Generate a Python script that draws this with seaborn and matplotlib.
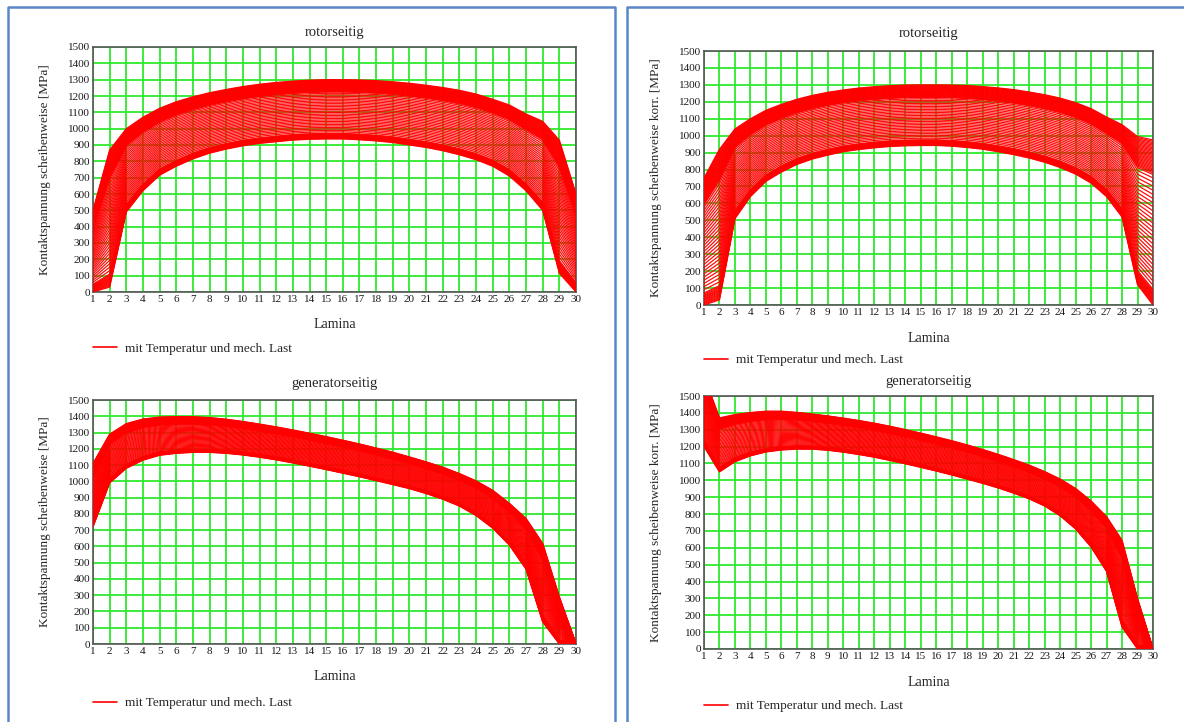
import numpy as np
import pandas as pd
import matplotlib
matplotlib.use("Agg")
import matplotlib.pyplot as plt
from matplotlib.lines import Line2D
import seaborn as sns

# Lamina positions
lamina = list(range(1, 31))

# envelope curves (first and last load step)
rotor_low = [0, 30, 490, 620, 715, 770, 815, 850, 875, 895, 910, 920, 930, 935, 937,
             937, 932, 925, 915, 900, 885, 865, 840, 810, 770, 710, 620, 500, 115, 0]
rotor_high = [500, 870, 1000, 1070, 1125, 1165, 1195, 1220, 1240, 1258, 1272, 1283, 1291, 1297, 1300,
              1300, 1298, 1294, 1287, 1278, 1266, 1252, 1235, 1212, 1180, 1145, 1090, 1045, 930, 600]

rotor_korr_low = [0, 30, 510, 640, 730, 785, 830, 862, 885, 905, 918, 928, 936, 940, 942,
                  942, 938, 930, 920, 905, 888, 868, 843, 812, 773, 720, 640, 520, 120, 0]
rotor_korr_high = [750, 920, 1040, 1100, 1150, 1185, 1215, 1238, 1256, 1270, 1281, 1289, 1295, 1299, 1300,
                   1300, 1299, 1296, 1290, 1282, 1272, 1258, 1242, 1222, 1195, 1160, 1110, 1065, 995, 975]

gen_low = [720, 990, 1080, 1130, 1160, 1172, 1178, 1178, 1172, 1162, 1148, 1132, 1113, 1093, 1072,
           1050, 1028, 1004, 980, 955, 925, 890, 848, 790, 712, 608, 460, 135, 0, 0]
gen_high = [1110, 1290, 1355, 1383, 1395, 1398, 1397, 1392, 1382, 1368, 1352, 1335, 1316, 1296, 1275,
            1253, 1230, 1205, 1179, 1150, 1120, 1087, 1048, 1003, 945, 865, 772, 619, 290, 0]

gen_korr_low = [1200, 1050, 1110, 1145, 1168, 1180, 1185, 1185, 1178, 1167, 1153, 1137, 1118, 1098, 1077,
                1055, 1032, 1007, 982, 955, 924, 890, 848, 790, 712, 605, 460, 130, 0, 0]
gen_korr_high = [1620, 1370, 1390, 1402, 1410, 1410, 1403, 1393, 1382, 1369, 1355, 1339, 1321, 1301, 1280,
                 1258, 1235, 1210, 1183, 1154, 1123, 1090, 1052, 1008, 952, 878, 785, 645, 300, 0]

# load steps (fraction of full load): dense at start, spread in the middle, dense at the end
load_steps = [0.0, 0.007, 0.014, 0.021, 0.028, 0.035, 0.042, 0.049, 0.056, 0.063, 0.07,
              0.078, 0.086, 0.095,
              0.12, 0.145, 0.17, 0.195, 0.22, 0.245, 0.27, 0.295, 0.32, 0.345,
              0.37, 0.395, 0.42, 0.445, 0.47, 0.495, 0.52, 0.545, 0.57, 0.595, 0.62,
              0.645, 0.67, 0.695, 0.72, 0.745, 0.77, 0.79,
              0.80, 0.808, 0.816, 0.824, 0.832, 0.84, 0.848, 0.856, 0.864, 0.872, 0.88,
              0.888, 0.896, 0.904, 0.912, 0.92, 0.928, 0.936, 0.944, 0.952, 0.96, 0.968,
              0.976, 0.984, 0.992, 1.0]

label_legend = "mit Temperatur und mech. Last"
ylabel_plain = "Kontaktspannung scheibenweise [MPa]"
ylabel_korr = "Kontaktspannung scheibenweise korr. [MPa]"

W, H = 1184, 722


def rect(l, t, r, b):
    return [l / W, 1 - b / H, (r - l) / W, (b - t) / H]


def family(low, high):
    rows = []
    low = np.array(low, float)
    high = np.array(high, float)
    for i, f in enumerate(load_steps):
        vals = low + f * (high - low)
        for x, v in zip(lamina, vals):
            rows.append((i, x, v))
    return pd.DataFrame(rows, columns=["Stufe", "Lamina", "Spannung"])


sns.set_theme(style="white")
plt.rcParams["font.family"] = ["Liberation Serif", "DejaVu Serif"]

fig = plt.figure(figsize=(W / 100, H / 100), dpi=100)
fig.patch.set_facecolor("white")

# blue page frames
blue = "#5b87c9"
fig.add_artist(Line2D([8 / W, 8 / W, 615 / W, 615 / W], [-0.01, 1 - 7 / H, 1 - 7 / H, -0.01],
                      color=blue, lw=1.8, transform=fig.transFigure))
fig.add_artist(Line2D([627 / W, 627 / W, 1.01], [-0.01, 1 - 7 / H, 1 - 7 / H],
                      color=blue, lw=1.8, transform=fig.transFigure))

panels = [
    (rect(93, 47, 576, 292), "rotorseitig", ylabel_plain, rotor_low, rotor_high, 32, 325, 349, 93),
    (rect(704, 51, 1153, 305), "rotorseitig", ylabel_korr, rotor_korr_low, rotor_korr_high, 34, 338, 360, 704),
    (rect(93, 400, 576, 644), "generatorseitig", ylabel_plain, gen_low, gen_high, 384, 677, 703, 93),
    (rect(704, 396, 1153, 649), "generatorseitig", ylabel_korr, gen_korr_low, gen_korr_high, 381, 682, 706, 704),
]

for r, title, ylab, low, high, ty, ly, gy, gx in panels:
    ax = fig.add_axes(r)
    df = family(low, high)
    sns.lineplot(data=df, x="Lamina", y="Spannung", units="Stufe", estimator=None,
                 color="#ff0000", lw=0.9, alpha=0.95, legend=False, ax=ax, zorder=3)
    ax.set_xlim(1, 30)
    ax.set_ylim(0, 1500)
    ax.set_xticks(lamina)
    ax.set_yticks(range(0, 1501, 100))
    ax.grid(True, color="#2ee82e", lw=1.3, zorder=1)
    ax.set_axisbelow(True)
    ax.tick_params(length=0, pad=2, labelsize=8, colors="#1a1a1a")
    for s in ax.spines.values():
        s.set_color("#555555")
        s.set_linewidth(1.2)
    bottom = r[1] * H
    top = bottom + r[3] * H
    hpx = r[3] * H
    wpx = r[2] * W
    ax.set_title(title, fontsize=10.5, pad=(1 - ty / H) * H - top - 7)
    ax.set_xlabel("Lamina", fontsize=10)
    ax.xaxis.set_label_coords(0.5, -((ly - (H - bottom)) / hpx))
    ax.xaxis.label.set_verticalalignment("center")
    ax.set_ylabel(ylab, fontsize=9.5)
    ax.yaxis.set_label_coords(-48 / wpx, 0.5)
    ax.yaxis.label.set_verticalalignment("center")
    handle = Line2D([], [], color="#ff0000", lw=1.2)
    fig.legend(handles=[handle], labels=[label_legend], loc="center left",
               bbox_to_anchor=(gx / W, 1 - gy / H), frameon=False, fontsize=9.5,
               borderpad=0, borderaxespad=0, handlelength=1.8, handletextpad=0.6)

fig.savefig("out.png", dpi=100)
